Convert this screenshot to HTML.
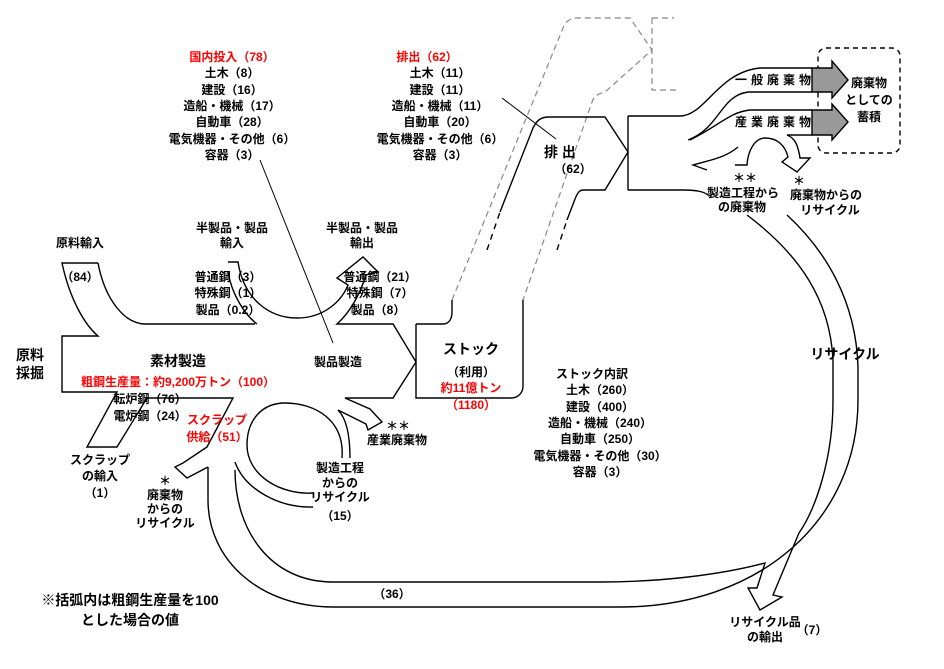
<!DOCTYPE html>
<html><head><meta charset="utf-8"><style>
html,body{margin:0;padding:0;background:#fff}
svg{display:block}
text{font-family:"Liberation Sans","Noto Sans CJK JP",sans-serif;font-weight:bold;font-size:12px;text-anchor:middle;fill:#000}
.r{fill:#f00}
.b{font-size:14px}
</style></head><body>
<svg width="944" height="669" viewBox="0 0 944 669" xmlns="http://www.w3.org/2000/svg">
<g fill="none" stroke="#000" stroke-width="1.4" stroke-linejoin="miter">
<g stroke="#888" stroke-dasharray="6,4" stroke-width="1.2">
<path d="M452,300 L563,28 C566,21 570,18 577,18 L630,18 L652,50 L605,92 C597,94 594,96 592,102 L523,300"/>
<path d="M652,18 L674,18 M652,18 L652,90 L678,90"/>
</g>
<path d="M500,212 L533,128 C537,120 541,117 549,117 L605,117 L628,152 L605,190 L583,190 C579,190 577,194 575,199 L567,220"/>
<path d="M487,250 L500,212 M557,250 L567,220" stroke-dasharray="6,5"/>
<path d="M416,324 L443,324 C449,324 452,319 452,312 L452,300"/>
<path d="M523,300 L523,386 C523,393 518,398 511,398 L416,398 L416,324"/>
<path d="M98,263 L62,263 C70,300 85,325 98,336 L62,336 L62,392 L117,392 L87,447 L117,447 L147,398 L233,398 L207,447 L183,463 L175,467 L187,478 L208,467"/>
<path d="M98,263 C105,300 125,324 145,324 L255,324"/>
<path d="M228,262 L238,262 C244,300 270,318 297,318 C325,318 342,300 348,285 L337,278 L363,257 L378,272 L366,275 C358,300 347,315 337,324 L393,324 L416,362 L393,398 L345,398 L370,409 L382,422 L368,430 L366,424 L338,410"/>
<path d="M228,272 C232,295 245,315 257,324"/>
<path d="M342,458 C345,420 315,403 285,403 C262,403 247,420 247,445 C247,475 280,495 313,493"/>
<path d="M338,410 C348,420 350,440 350,458"/>
<path d="M235,462 C245,490 280,508 313,507"/>
<path d="M787,215 C825,250 856,300 858,367 L858,400 C858,520 760,607 620,607 L333,607 C260,607 208,560 208,500 L208,467"/>
<path d="M747,215 C800,255 830,300 833,360 L833,400 C833,460 815,510 799,533 L773,595 L782,597 L760,610 L748,588 L757,588 L765,563 C720,575 660,582 600,582 L333,582 C270,582 235,530 235,470"/>
<path d="M628,116 L628,190"/>
<path d="M628,116 L680,116 C705,116 718,72 760,68 L812,68"/>
<path d="M688,140 C720,128 720,96 748,92 L812,92"/>
<path d="M690,140 C720,125 730,112 750,110 L812,110"/>
<path d="M787,135 L812,135"/>
<path d="M628,190 L683,190 C698,190 704,192 708,195"/>
<path d="M738,147 C725,158 710,160 693,165 L707,170"/>
<path d="M735,165 L747,165 C748,150 755,138 765,138 C777,138 785,145 788,157 L782,162 L797,172 L810,158 L800,158 C798,145 795,138 787,135"/>
<rect x="818" y="48" width="82" height="105" rx="8" stroke-dasharray="5,4"/>
<polygon points="812,68 832,68 832,61 848,80 832,98 832,92 812,92" fill="#999"/>
<polygon points="812,110 832,110 832,104 848,122 832,140 832,135 812,135" fill="#999"/>
<path d="M260,160 L333,343" stroke-width="1"/>
<path d="M502,98 L556,139" stroke-width="1"/>
</g>

<text class="r" x="232" y="61">国内投入（78）</text>
<text x="232" y="77">土木（8）</text>
<text x="232" y="94">建設（16）</text>
<text x="232" y="110">造船・機械（17）</text>
<text x="232" y="126">自動車（28）</text>
<text x="232" y="143">電気機器・その他（6）</text>
<text x="232" y="159">容器（3）</text>

<text class="r" x="427" y="61">排出（62）</text>
<text x="440" y="77">土木（11）</text>
<text x="440" y="94">建設（11）</text>
<text x="440" y="110">造船・機械（11）</text>
<text x="440" y="126">自動車（20）</text>
<text x="440" y="143">電気機器・その他（6）</text>
<text x="440" y="159">容器（3）</text>

<text class="b" x="560" y="157">排 出</text>
<text x="573" y="173">（62）</text>

<text x="80" y="247">原料輸入</text>
<text x="232" y="232">半製品・製品</text>
<text x="232" y="247">輸入</text>
<text x="362" y="232">半製品・製品</text>
<text x="362" y="247">輸出</text>
<text x="80" y="281">（84）</text>
<text x="228" y="281">普通鋼（3）</text>
<text x="228" y="297">特殊鋼（1）</text>
<text x="228" y="314">製品（0.2）</text>
<text x="380" y="281">普通鋼（21）</text>
<text x="380" y="297">特殊鋼（7）</text>
<text x="378" y="314">製品（8）</text>

<text class="b" x="30" y="360">原料</text>
<text class="b" x="30" y="378">採掘</text>
<text class="b" x="178" y="366">素材製造</text>
<text x="338" y="366">製品製造</text>
<text class="r" x="178" y="386">粗鋼生産量：約9,200万トン（100）</text>
<text x="150" y="403">転炉鋼（76）</text>
<text x="150" y="420">電炉鋼（24）</text>
<text class="r" x="217" y="424">スクラップ</text>
<text class="r" x="217" y="441">供給（51）</text>

<text class="b" x="471" y="354">ストック</text>
<text x="471" y="376">（利用）</text>
<text class="r" x="471" y="392">約11億トン</text>
<text class="r" x="471" y="409">（1180）</text>

<text x="398" y="430">＊＊</text>
<text x="397" y="444">産業廃棄物</text>
<text x="100" y="464">スクラップ</text>
<text x="100" y="480">の輸入</text>
<text x="100" y="497">（1）</text>
<text x="165" y="485">＊</text>
<text x="165" y="499">廃棄物</text>
<text x="165" y="513">からの</text>
<text x="165" y="527">リサイクル</text>
<text x="340" y="472">製造工程</text>
<text x="340" y="487">からの</text>
<text x="340" y="501">リサイクル</text>
<text x="340" y="520">（15）</text>

<text x="592" y="378">ストック内訳</text>
<text x="600" y="394">土木（260）</text>
<text x="600" y="411">建設（400）</text>
<text x="600" y="427">造船・機械（240）</text>
<text x="600" y="443">自動車（250）</text>
<text x="600" y="460">電気機器・その他（30）</text>
<text x="600" y="476">容器（3）</text>

<text class="b" x="845" y="359">リサイクル</text>
<text x="745" y="182">＊＊</text>
<text x="743" y="197">製造工程から</text>
<text x="742" y="211">の廃棄物</text>
<text x="799" y="185">＊</text>
<text x="826" y="199">廃棄物からの</text>
<text x="830" y="214">リサイクル</text>
<text x="775" y="84" style="letter-spacing:4px">一般廃棄物</text>
<text x="775" y="126" style="letter-spacing:4px">産業廃棄物</text>
<text x="869" y="87">廃棄物</text>
<text x="869" y="104">としての</text>
<text x="869" y="121">蓄積</text>

<text class="b" x="130" y="605">※括弧内は粗鋼生産量を100</text>
<text class="b" x="130" y="625">とした場合の値</text>
<text x="392" y="598">（36）</text>
<text x="765" y="626">リサイクル品</text>
<text x="765" y="641">の輸出</text>
<text x="812" y="634">（7）</text>
</svg>
</body></html>
